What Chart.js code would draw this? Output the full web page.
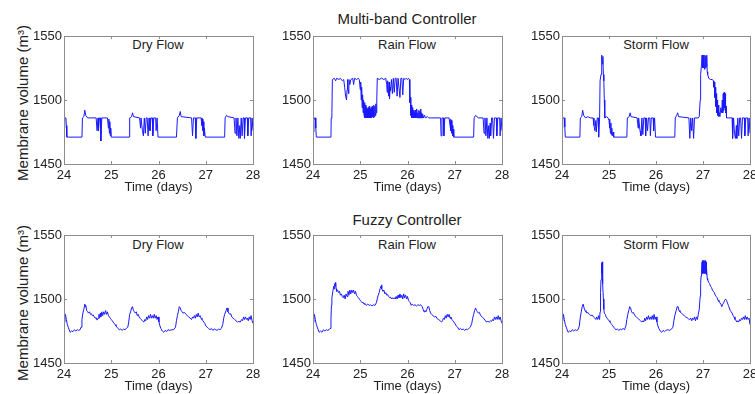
<!DOCTYPE html>
<html><head><meta charset="utf-8">
<script src="https://cdn.jsdelivr.net/npm/chart.js@4/dist/chart.umd.min.js"></script>
<style>
html,body{margin:0;padding:0;background:#fff;width:755px;height:394px;overflow:hidden;position:relative;font-family:"Liberation Sans",Arial,sans-serif;}
canvas{position:absolute;}
.lbl{position:absolute;transform:translate(-50%,-50%);white-space:nowrap;color:#222;}
.ylbl{position:absolute;transform:translate(-50%,-50%) rotate(-90deg);white-space:nowrap;color:#222;font-size:15px;}
</style></head><body>
<div class="lbl" style="left:407px;top:18px;font-size:15px;">Multi-band Controller</div>
<div class="lbl" style="left:407px;top:219px;font-size:15px;">Fuzzy Controller</div>
<div class="lbl" style="left:158px;top:44px;font-size:13px;">Dry Flow</div>
<div class="lbl" style="left:407px;top:44px;font-size:13px;">Rain Flow</div>
<div class="lbl" style="left:656px;top:44px;font-size:13px;">Storm Flow</div>
<div class="lbl" style="left:158px;top:244px;font-size:13px;">Dry Flow</div>
<div class="lbl" style="left:407px;top:244px;font-size:13px;">Rain Flow</div>
<div class="lbl" style="left:656px;top:244px;font-size:13px;">Storm Flow</div>
<div class="ylbl" id="yt1" style="left:22px;top:103px;"></div>
<div class="ylbl" id="yt2" style="left:22px;top:303px;"></div>
<canvas id="c1" width="263" height="170" style="left:0px;top:26px"></canvas>
<canvas id="c2" width="244" height="170" style="left:268px;top:26px"></canvas>
<canvas id="c3" width="238" height="170" style="left:517px;top:26px"></canvas>
<canvas id="c4" width="263" height="170" style="left:0px;top:225px"></canvas>
<canvas id="c5" width="244" height="170" style="left:268px;top:225px"></canvas>
<canvas id="c6" width="238" height="170" style="left:517px;top:225px"></canvas>
<script>
const xTicks = [24, 25, 26, 27, 28];
const yTicks = [1450, 1500, 1550];
const xLabel = "Time (days)";
const yLabel = "Membrane volume (m³)";

// Multi-band controller, dry flow
const mbDryT = [24.00,24.01,24.02,24.04,24.05,24.06,24.10,24.38,24.39,24.42,24.44,24.46,24.50,24.68,24.70,24.72,24.73,24.75,24.77,24.78,24.80,24.92,24.94,24.95,24.96,24.97,24.98,24.99,25.00,25.05,25.38,25.39,25.43,25.45,25.47,25.60,25.62,25.63,25.66,25.68,25.70,25.72,25.74,25.76,25.78,25.80,25.82,25.84,25.87,25.88,25.90,25.94,25.95,25.97,25.99,26.00,26.38,26.40,26.44,26.46,26.48,26.70,26.72,26.74,26.78,26.79,26.81,26.90,26.92,26.93,26.94,26.95,26.96,26.97,26.99,27.00,27.40,27.41,27.44,27.47,27.60,27.62,27.64,27.66,27.68,27.70,27.72,27.73,27.75,27.77,27.79,27.81,27.82,27.84,27.88,27.89,27.91,27.95,27.96,27.98,28.00];
const mbDryV = [1478,1484,1486,1486,1480,1471,1471,1471,1486,1487,1492,1488,1486,1486,1476,1486,1476,1486,1486,1468,1486,1486,1478,1485,1474,1483,1472,1478,1471,1471,1471,1486,1487,1490,1487,1486,1478,1486,1476,1472,1486,1474,1486,1486,1472,1486,1476,1486,1486,1472,1486,1486,1476,1486,1471,1471,1471,1486,1488,1491,1487,1486,1472,1486,1486,1470,1486,1486,1480,1485,1476,1483,1472,1478,1471,1471,1471,1486,1488,1487,1486,1474,1486,1472,1486,1470,1480,1470,1486,1472,1486,1486,1470,1486,1486,1472,1486,1486,1472,1486,1476];

// Multi-band controller, rain flow
const mbRainT = [24.00,24.02,24.03,24.05,24.06,24.07,24.38,24.385,24.40,24.41,24.45,24.48,24.50,24.55,24.58,24.62,24.65,24.67,24.69,24.71,24.72,24.73,24.75,24.76,24.78,24.80,24.84,24.86,24.88,24.92,24.96,24.98,25.00,25.01,25.02,25.03,25.04,25.05,25.06,25.07,25.08,25.09,25.10,25.11,25.12,25.13,25.14,25.15,25.16,25.17,25.18,25.19,25.20,25.21,25.22,25.23,25.24,25.25,25.26,25.27,25.28,25.29,25.30,25.31,25.32,25.33,25.34,25.35,25.36,25.40,25.45,25.50,25.54,25.56,25.57,25.58,25.60,25.61,25.62,25.63,25.64,25.66,25.68,25.70,25.72,25.74,25.76,25.78,25.80,25.82,25.84,25.86,25.88,25.90,25.92,25.95,25.97,26.00,26.02,26.04,26.05,26.06,26.07,26.08,26.09,26.10,26.11,26.12,26.13,26.14,26.15,26.16,26.17,26.18,26.19,26.20,26.21,26.22,26.23,26.24,26.25,26.26,26.27,26.28,26.29,26.30,26.31,26.32,26.34,26.36,26.38,26.42,26.45,26.50,26.70,26.71,26.73,26.76,26.77,26.79,26.88,26.90,26.91,26.92,26.93,26.94,26.95,26.96,26.97,26.98,27.00,27.40,27.41,27.44,27.47,27.50,27.60,27.62,27.64,27.66,27.68,27.70,27.72,27.73,27.75,27.76,27.78,27.80,27.82,27.84,27.88,27.89,27.91,27.95,27.96,27.98,28.00];
const mbRainV = [1475,1484,1486,1486,1478,1471,1471,1486,1490,1516,1517,1515,1517,1516,1517,1515,1516,1510,1503,1500,1508,1516,1505,1516,1512,1516,1517,1512,1517,1516,1517,1516,1508,1514,1500,1510,1494,1504,1490,1500,1488,1498,1486,1496,1486,1494,1486,1493,1486,1494,1486,1495,1486,1493,1486,1494,1486,1495,1487,1494,1486,1496,1487,1495,1488,1497,1490,1500,1517,1516,1517,1516,1517,1512,1506,1515,1503,1514,1501,1510,1507,1516,1505,1517,1506,1517,1517,1503,1517,1517,1502,1517,1517,1504,1517,1516,1517,1516,1517,1516,1498,1502,1488,1496,1486,1494,1486,1492,1486,1490,1486,1492,1486,1491,1486,1493,1486,1490,1486,1492,1486,1491,1486,1493,1486,1490,1486,1489,1486,1488,1486,1487,1486,1486,1486,1472,1486,1486,1472,1486,1486,1480,1485,1476,1484,1474,1480,1472,1477,1471,1471,1471,1486,1488,1487,1486,1486,1474,1486,1472,1486,1470,1480,1470,1482,1472,1486,1486,1470,1486,1486,1472,1486,1486,1472,1486,1476];

// Multi-band controller, storm flow
const mbStormT = [24.00,24.01,24.02,24.05,24.06,24.07,24.38,24.39,24.42,24.44,24.46,24.50,24.55,24.60,24.66,24.68,24.70,24.72,24.73,24.75,24.77,24.78,24.80,24.81,24.83,24.84,24.85,24.86,24.87,24.88,24.89,24.90,24.91,24.95,24.98,25.00,25.01,25.02,25.03,25.04,25.05,25.06,25.07,25.09,25.10,25.38,25.39,25.43,25.45,25.47,25.60,25.62,25.63,25.66,25.68,25.70,25.72,25.74,25.77,25.78,25.80,25.82,25.84,25.87,25.88,25.90,25.94,25.95,25.97,25.99,26.02,26.40,26.41,26.44,26.46,26.48,26.70,26.72,26.74,26.76,26.78,26.80,26.82,26.90,26.92,26.94,26.95,26.97,26.98,26.99,27.00,27.01,27.02,27.03,27.04,27.05,27.06,27.07,27.08,27.09,27.10,27.12,27.16,27.20,27.22,27.23,27.24,27.25,27.26,27.27,27.28,27.29,27.30,27.31,27.32,27.33,27.34,27.36,27.38,27.40,27.41,27.42,27.43,27.44,27.45,27.46,27.47,27.48,27.49,27.50,27.62,27.63,27.65,27.67,27.69,27.71,27.72,27.74,27.76,27.78,27.80,27.82,27.84,27.88,27.89,27.91,27.95,27.96,27.98,28.00];
const mbStormV = [1478,1484,1486,1486,1479,1471,1471,1486,1487,1492,1488,1486,1487,1486,1486,1480,1476,1484,1475,1486,1486,1471,1486,1515,1520,1530,1535,1528,1534,1520,1515,1500,1486,1487,1486,1484,1478,1485,1474,1482,1473,1478,1472,1475,1471,1471,1486,1487,1490,1487,1486,1478,1486,1476,1472,1486,1473,1486,1486,1472,1486,1476,1486,1486,1472,1486,1486,1476,1486,1471,1471,1471,1486,1488,1490,1487,1486,1470,1486,1476,1486,1470,1486,1486,1487,1500,1520,1528,1535,1525,1535,1525,1535,1524,1535,1525,1534,1526,1535,1522,1520,1517,1516,1516,1515,1510,1514,1502,1510,1495,1505,1490,1500,1488,1496,1487,1492,1487,1494,1490,1500,1490,1505,1492,1506,1494,1505,1490,1495,1486,1486,1470,1486,1474,1470,1480,1470,1486,1472,1486,1486,1470,1486,1486,1472,1486,1486,1472,1486,1474];

// Fuzzy controller, dry flow
const fzDryT = [24.00,24.02,24.03,24.05,24.07,24.09,24.11,24.13,24.16,24.19,24.22,24.25,24.28,24.31,24.34,24.36,24.38,24.40,24.42,24.44,24.45,24.46,24.48,24.50,24.52,24.54,24.56,24.58,24.60,24.62,24.64,24.66,24.68,24.70,24.72,24.74,24.75,24.77,24.78,24.80,24.82,24.84,24.86,24.88,24.90,24.92,24.94,24.96,24.98,25.00,25.02,25.04,25.06,25.08,25.10,25.12,25.14,25.17,25.20,25.23,25.26,25.29,25.32,25.35,25.37,25.39,25.41,25.43,25.45,25.47,25.49,25.51,25.53,25.55,25.57,25.59,25.61,25.63,25.66,25.69,25.71,25.73,25.75,25.77,25.79,25.81,25.83,25.85,25.87,25.89,25.91,25.93,25.95,25.97,25.99,26.01,26.03,26.05,26.08,26.11,26.14,26.17,26.20,26.24,26.28,26.32,26.36,26.38,26.40,26.42,26.44,26.46,26.48,26.50,26.52,26.55,26.58,26.61,26.64,26.67,26.70,26.72,26.74,26.76,26.78,26.80,26.82,26.84,26.86,26.88,26.90,26.92,26.94,26.96,26.98,27.00,27.03,27.06,27.09,27.12,27.15,27.18,27.21,27.24,27.27,27.30,27.33,27.36,27.38,27.40,27.43,27.45,27.47,27.49,27.51,27.53,27.55,27.58,27.61,27.64,27.67,27.70,27.73,27.76,27.78,27.80,27.82,27.84,27.86,27.88,27.90,27.92,27.94,27.96,27.98,28.00];
const fzDryV = [1482,1487,1488,1484,1480,1478,1476,1474,1475,1474.5,1476,1475,1476,1475.5,1476,1478,1484,1489,1492,1496,1494,1495,1491,1490,1489,1490,1488,1488.5,1487,1487.5,1486,1485,1485.5,1483.5,1485,1488,1485,1489,1486,1490,1487,1490,1488,1491,1488,1490,1487,1486,1485,1484,1483,1482,1481,1480,1479,1478,1477,1476,1476.5,1475.5,1476.5,1476,1477,1478,1482,1488,1490,1493,1494,1491,1490,1489,1490,1487,1488,1486,1485,1484,1483,1482,1484,1483,1486,1484,1487,1485,1488,1485,1487,1485,1488,1485,1487,1484,1486,1482,1479,1477,1475,1474,1475.5,1474.5,1476,1475.5,1476,1476,1478,1483,1487,1490,1494,1493,1491,1490,1489,1489.5,1488,1487,1486,1485,1484,1486,1485,1487,1485,1488,1486,1489,1486,1487,1485,1484,1483,1482,1481,1479,1478,1477,1476,1477,1475.5,1476.5,1476,1475.5,1476.5,1476,1477,1480,1485,1488,1491,1493,1490,1489,1488,1488.5,1486,1485,1484,1483,1482,1482.5,1482,1484,1483,1486,1484,1486,1484,1485,1483,1486,1484,1487,1483,1481];

// Fuzzy controller, rain flow
const fzRainT = [24.00,24.02,24.03,24.05,24.07,24.09,24.11,24.13,24.16,24.19,24.22,24.25,24.28,24.31,24.34,24.36,24.38,24.39,24.40,24.42,24.44,24.45,24.46,24.47,24.48,24.49,24.50,24.52,24.54,24.56,24.58,24.60,24.62,24.64,24.66,24.68,24.70,24.72,24.74,24.76,24.78,24.80,24.82,24.84,24.86,24.88,24.90,24.92,24.94,24.96,24.98,25.00,25.02,25.04,25.06,25.08,25.10,25.13,25.16,25.19,25.22,25.25,25.28,25.31,25.34,25.36,25.38,25.40,25.42,25.44,25.45,25.46,25.48,25.50,25.52,25.54,25.56,25.58,25.60,25.62,25.64,25.66,25.68,25.70,25.72,25.74,25.76,25.78,25.80,25.82,25.84,25.86,25.88,25.90,25.92,25.94,25.96,25.98,26.00,26.02,26.04,26.06,26.08,26.10,26.13,26.16,26.19,26.22,26.25,26.28,26.31,26.33,26.35,26.37,26.39,26.41,26.43,26.45,26.47,26.49,26.51,26.54,26.57,26.60,26.63,26.66,26.69,26.72,26.74,26.76,26.78,26.80,26.82,26.84,26.86,26.88,26.90,26.92,26.94,26.96,26.98,27.00,27.03,27.06,27.09,27.12,27.15,27.18,27.21,27.24,27.27,27.30,27.33,27.36,27.38,27.40,27.42,27.44,27.46,27.48,27.50,27.52,27.55,27.58,27.61,27.64,27.67,27.70,27.73,27.76,27.78,27.80,27.82,27.84,27.86,27.88,27.90,27.92,27.94,27.96,27.98,28.00];
const fzRainV = [1482,1487,1488,1484,1480,1478,1476,1474,1475,1474,1476,1475,1476,1475.5,1476,1477,1485,1495,1501,1506,1510,1508,1512,1510,1513,1508,1506,1507,1505,1506,1503,1504,1502,1501,1503,1500,1504,1502,1506,1503,1507,1504,1507,1505,1507,1504,1506,1503,1502,1501,1500,1499,1498,1497,1497.5,1496,1496.5,1495,1496,1495,1495.5,1494.5,1495.5,1495,1497,1500,1503,1505,1508,1510,1511,1508,1506,1507,1504,1505,1503,1503.5,1502,1501,1501.5,1500,1501,1500,1501,1500,1502,1500,1503,1501,1504,1501,1503,1500,1504,1501,1503,1500,1502,1499,1498,1497,1495,1496,1495,1495.5,1494.5,1495.5,1495,1495.5,1494,1492,1490,1491,1490,1492,1494,1494,1491,1489,1488,1487,1486,1486.5,1484.5,1484,1483,1482,1483,1485,1484,1487,1485,1488,1486,1488,1485,1486,1484,1483,1482,1481,1479,1478,1476,1477,1476,1476.5,1475.5,1476.5,1476,1477,1478,1481,1485,1488,1491,1493,1491,1490,1489,1489.5,1487,1486,1485,1483.5,1482,1482.5,1482,1483,1482.5,1484,1483,1486,1484,1486,1484,1487,1484,1486,1483,1481];

// Fuzzy controller, storm flow
const fzStormT = [24.00,24.02,24.03,24.05,24.07,24.09,24.11,24.13,24.16,24.19,24.22,24.25,24.28,24.31,24.34,24.37,24.39,24.41,24.43,24.45,24.47,24.49,24.51,24.53,24.55,24.58,24.61,24.64,24.67,24.70,24.72,24.74,24.76,24.78,24.80,24.81,24.82,24.83,24.84,24.845,24.85,24.855,24.86,24.87,24.88,24.89,24.90,24.92,24.94,24.96,24.98,25.00,25.02,25.04,25.06,25.08,25.10,25.12,25.15,25.18,25.21,25.24,25.27,25.30,25.33,25.36,25.38,25.40,25.42,25.44,25.46,25.48,25.50,25.52,25.55,25.58,25.61,25.64,25.67,25.70,25.72,25.74,25.76,25.78,25.80,25.82,25.84,25.86,25.88,25.90,25.92,25.94,25.96,25.98,26.00,26.02,26.04,26.06,26.09,26.12,26.15,26.18,26.21,26.25,26.29,26.33,26.36,26.38,26.40,26.43,26.45,26.47,26.49,26.51,26.54,26.57,26.60,26.63,26.66,26.69,26.72,26.74,26.76,26.78,26.80,26.82,26.84,26.86,26.88,26.90,26.92,26.94,26.95,26.96,26.97,26.98,26.985,26.99,26.995,27.00,27.005,27.01,27.015,27.02,27.025,27.03,27.035,27.04,27.045,27.05,27.055,27.06,27.065,27.07,27.075,27.08,27.09,27.10,27.12,27.14,27.16,27.18,27.20,27.22,27.24,27.26,27.28,27.30,27.32,27.34,27.36,27.38,27.40,27.42,27.44,27.46,27.48,27.50,27.52,27.54,27.56,27.58,27.60,27.62,27.64,27.66,27.68,27.70,27.72,27.74,27.76,27.78,27.80,27.82,27.84,27.86,27.88,27.90,27.92,27.94,27.96,27.98,28.00];
const fzStormV = [1483,1487,1488,1484,1480,1478,1476,1474,1475,1474.5,1476,1475,1476,1475.5,1476,1479,1486,1490,1494,1496,1493,1491,1490,1489,1489.5,1488,1487,1487.5,1486,1485,1484,1486,1484,1487,1484,1490,1505,1515,1524,1528,1520,1529,1522,1512,1500,1492,1489,1488,1486,1485,1484,1483,1482,1481,1480,1479,1478,1477,1476,1476.5,1475.5,1476.5,1476,1477,1476,1479,1484,1488,1491,1494,1493,1490,1489,1489.5,1487,1486,1485,1484,1483,1482,1483,1482,1485,1483,1486,1484,1487,1484,1486,1484,1487,1484,1488,1484,1486,1482,1479,1477,1475,1474,1475.5,1474.5,1475.5,1476,1475.5,1476.5,1478,1483,1487,1491,1494,1494,1491,1490,1489,1488,1487,1486,1485.5,1484.5,1484,1485,1483,1485,1484,1486,1483,1486,1484,1488,1492,1502,1512,1518,1524,1529,1521,1530,1520,1530,1520,1530,1521,1530,1520,1530,1521,1530,1520,1530,1521,1530,1520,1529,1519,1524,1516,1515,1513,1512,1510,1509,1507,1506,1505,1503,1502,1501,1499,1498,1497,1496,1494,1496,1497,1499,1500,1499,1497,1495,1493,1491,1490,1489,1487,1486,1484,1483.5,1482,1483,1482,1484,1483,1485,1484,1486,1484,1487,1484,1486,1484,1485,1480];

const FONT = "'Liberation Sans', Arial, sans-serif";
const TEXT = '#222';
const AXIS = '#8c8c8c';
const LINE = 'rgb(25,25,255)';

document.getElementById('yt1').textContent = yLabel;
document.getElementById('yt2').textContent = yLabel;

const framePlugin = {
  id: 'matlabFrame',
  afterDraw(chart) {
    const {ctx, chartArea: a, scales} = chart;
    ctx.save();
    ctx.strokeStyle = AXIS;
    ctx.lineWidth = 1;
    ctx.strokeRect(Math.round(a.left) + 0.5, Math.round(a.top) + 0.5, Math.round(a.right - a.left), Math.round(a.bottom - a.top));
    const L = 3;
    ctx.beginPath();
    scales.x.ticks.forEach(t => {
      const px = Math.round(scales.x.getPixelForValue(t.value)) + 0.5;
      ctx.moveTo(px, a.bottom); ctx.lineTo(px, a.bottom - L);
      ctx.moveTo(px, a.top); ctx.lineTo(px, a.top + L);
    });
    scales.y.ticks.forEach(t => {
      const py = Math.round(scales.y.getPixelForValue(t.value)) + 0.5;
      ctx.moveTo(a.left, py); ctx.lineTo(a.left + L, py);
      ctx.moveTo(a.right, py); ctx.lineTo(a.right - L, py);
    });
    ctx.stroke();
    ctx.restore();
  }
};

function makeChart(id, T, V, yW, padR) {
  const pts = T.map((t, i) => ({x: t, y: V[i]}));
  new Chart(document.getElementById(id), {
    type: 'line',
    data: { datasets: [{ data: pts, borderColor: LINE, borderWidth: 1, pointRadius: 0, tension: 0, fill: false }] },
    options: {
      responsive: false, animation: false, devicePixelRatio: 1,
      layout: { padding: { left: 0, right: padR, top: 10, bottom: 0 } },
      plugins: { legend: { display: false }, tooltip: { enabled: false } },
      scales: {
        x: {
          type: 'linear', min: 24, max: 28,
          afterBuildTicks: s => { s.ticks = xTicks.map(v => ({value: v})); },
          afterFit: s => { s.height = 32; s.paddingLeft = 0; s.paddingRight = 0; },
          grid: { display: false, drawTicks: false },
          border: { display: false },
          ticks: { padding: 4, color: TEXT, font: { family: FONT, size: 13 }, maxRotation: 0, autoSkip: false, callback: v => String(v) },
          title: { display: true, text: xLabel, color: TEXT, font: { family: FONT, size: 13 }, padding: { top: 0, bottom: 1 } }
        },
        y: {
          type: 'linear', min: 1450, max: 1550,
          afterBuildTicks: s => { s.ticks = yTicks.map(v => ({value: v})); },
          afterFit: s => { s.width = yW; s.paddingTop = 0; s.paddingBottom = 0; },
          grid: { display: false, drawTicks: false },
          border: { display: false },
          ticks: { padding: 2, color: TEXT, font: { family: FONT, size: 13 }, autoSkip: false, callback: v => String(v) }
        }
      }
    },
    plugins: [framePlugin]
  });
}

makeChart('c1', mbDryT, mbDryV, 64, 10);
makeChart('c2', mbRainT, mbRainV, 45, 10);
makeChart('c3', mbStormT, mbStormV, 45, 5);
makeChart('c4', fzDryT, fzDryV, 64, 10);
makeChart('c5', fzRainT, fzRainV, 45, 10);
makeChart('c6', fzStormT, fzStormV, 45, 5);
</script>
</body></html>
